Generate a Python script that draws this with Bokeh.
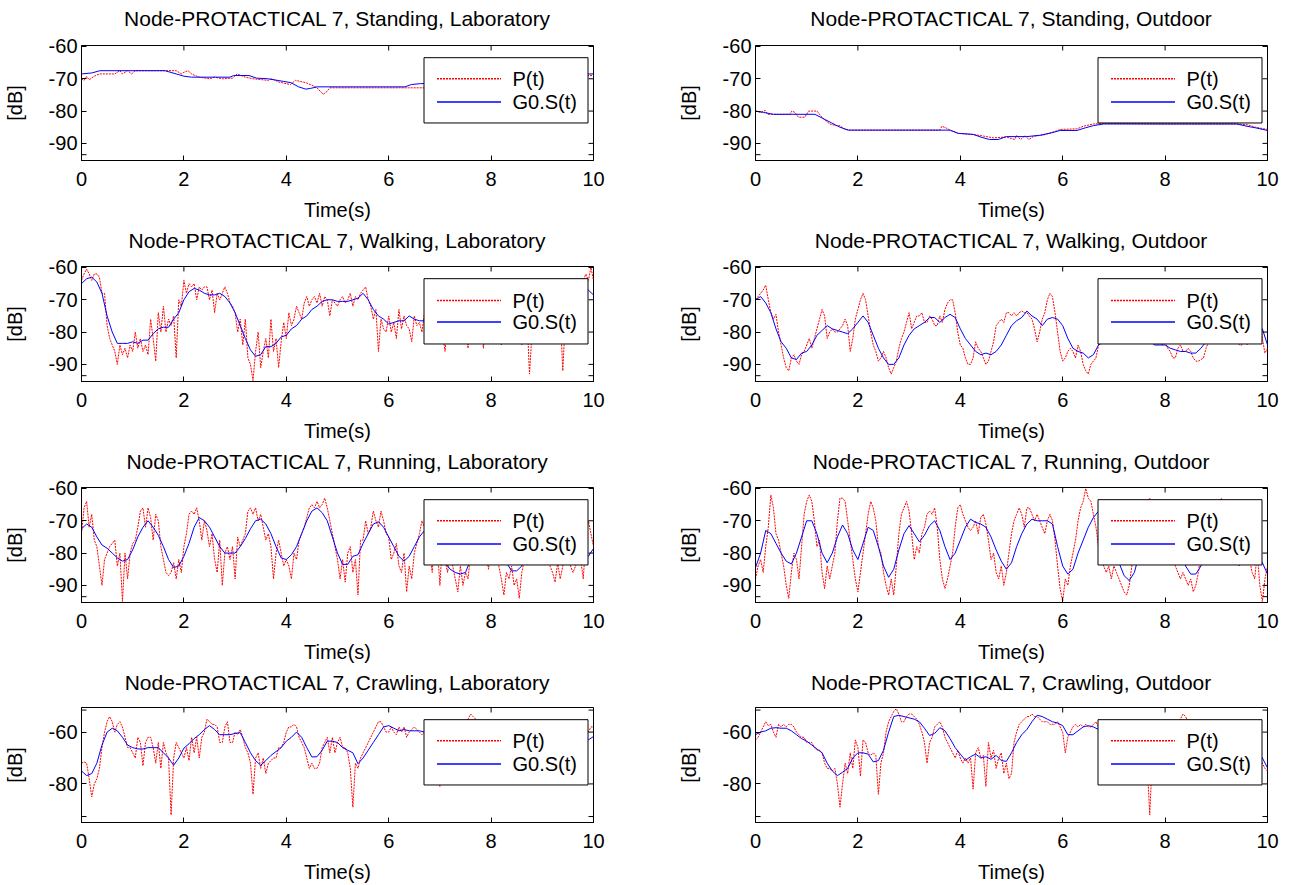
import numpy as np
from bokeh.core.properties import value
from bokeh.embed import file_html
from bokeh.layouts import column, row
from bokeh.models import FixedTicker, LinearAxis, Range1d
from bokeh.plotting import figure
from bokeh.resources import INLINE

FONT = "Liberation Sans"
TXT = "20px"
TITLE_TXT = "21px"

time_ticks = [0, 2, 4, 6, 8, 10]
db_ticks = [-90, -80, -70, -60]
db_ticks_crawl = [-80, -60]
db_edge_ticks = [-93.5]
db_edge_ticks_crawl = [-92.6, -51.5]
db_labels = {-90: "-90", -80: "-80", -70: "-70", -60: "-60"}
legend_labels = ["P(t)", "G0.S(t)"]

# ---------------- Standing, Laboratory (step-like, irregular sample times)
sl_tp = [0.0, 0.05, 0.1, 0.15, 0.25, 0.35, 0.65, 0.75, 0.8, 0.9, 0.98, 1.05,
         1.85, 1.95, 2.0, 2.08, 2.15, 2.22, 2.3, 2.5, 2.6, 2.75, 2.95, 3.04,
         3.2, 3.35, 3.65, 3.72, 3.85, 4.08, 4.18, 4.38, 4.5, 4.6, 4.72, 4.79,
         4.85, 6.3, 6.9, 7.5, 8.5, 9.5, 9.85, 10.0]
sl_p = [-70, -70.5, -69.3, -70.3, -69.2, -68.5, -68.5, -67.5, -68.5, -67.5, -68.5, -67.5,
        -67.5, -68.5, -68, -67.5, -68.5, -69, -69.5, -70, -69.5, -70, -69.8, -68.5,
        -69.5, -70, -70.5, -70, -71, -71.8, -70.5, -71.2, -72, -72.8, -74.8, -74,
        -72.8, -72.8, -72.8, -72, -71, -70, -69, -69]
sl_ts = [0.0, 0.2, 0.36, 1.63, 1.85, 2.0, 2.15, 2.9, 2.97, 3.27, 3.42, 3.64, 3.94,
         4.09, 4.24, 4.38, 4.47, 4.6, 6.32, 6.44, 6.62, 7.5, 8.5, 9.3, 9.8, 10.0]
sl_s = [-68.5, -68.2, -67.5, -67.5, -68.5, -69.2, -69.5, -69.5, -69.0, -69.0, -69.8, -70.0, -70.8,
        -71.2, -72.5, -73.2, -73.0, -72.5, -72.5, -71.8, -71.5, -71.5, -71, -70, -68.5, -68.5]

# ---------------- Standing, Outdoor
so_tp = [0.0, 0.1, 0.19, 0.24, 0.67, 0.71, 0.77, 0.84, 0.96, 1.04, 1.2, 1.3, 1.45,
         1.57, 1.65, 1.73, 1.85, 3.6, 3.64, 3.72, 3.8, 3.96, 4.33, 4.65, 4.9, 5.06,
         5.1, 5.18, 5.26, 5.34, 5.43, 5.63, 5.87, 5.95, 6.28, 6.4, 6.6, 6.8, 8.0,
         9.4, 9.6, 9.77, 10.0]
so_p = [-80, -80.4, -79.8, -81, -81, -80, -80.4, -81.9, -81.9, -80, -80, -82, -84,
        -84.5, -84.5, -85.5, -85.9, -85.9, -84.7, -85.2, -85.9, -86.9, -87.4, -88.3, -88, -88.8,
        -87.6, -88.8, -87.6, -88.8, -87.8, -87.4, -86.2, -85.7, -85.5, -84.7, -84, -83.8, -84,
        -84, -84.2, -85, -85.7]
so_ts = [0.0, 0.15, 0.35, 1.16, 1.32, 1.49, 1.65, 1.81, 3.8, 3.96, 4.25, 4.41, 4.57,
         4.74, 4.9, 5.3, 5.55, 5.79, 5.95, 6.28, 6.44, 6.6, 6.8, 8.0, 9.4, 9.6, 9.77, 10.0]
so_s = [-80, -80.4, -81, -81, -82.3, -83.7, -85, -85.9, -85.9, -86.9, -87.2, -88.1, -88.8,
        -88.8, -87.9, -87.9, -87.5, -86.7, -86, -86, -85.2, -84.5, -84, -84, -84, -84.7, -85.2, -86]

# ---------------- Walking, Laboratory (P every 0.05 s, smoothed every 0.1 s)
wl_p = [
    -64, -62, -60.5, -62, -64, -62, -62, -63, -68, -68, -78, -82, -84, -86, -90, -84, -87, -85, -88, -84,
    -86, -80, -85, -82, -86, -84, -87, -76, -82, -89, -74, -80, -72, -80, -76, -78, -75, -88, -70, -72,
    -64, -68, -65, -66, -65, -70, -66, -67, -66, -66, -70, -67, -74, -68, -70, -68, -66, -68, -71, -72,
    -74, -80, -76, -84, -76, -88, -90, -95, -86, -80, -91, -86, -82, -88, -76, -86, -82, -91, -83, -77,
    -82, -74, -78, -76, -72, -74, -76, -71, -69, -72, -70, -69, -71, -68, -72, -69, -70, -75, -70, -71,
    -72, -70, -69, -71, -70, -68, -72, -69, -70, -68, -67, -66, -70, -72, -76, -73, -86, -76, -79, -80,
    -75, -80, -77, -82, -73, -79, -75, -78, -79, -83, -75, -78, -77, -80, -74, -78, -76, -80, -77, -82,
    -78, -80, -86, -76, -74, -78, -72, -80, -76, -74, -78, -85, -76, -79, -74, -82, -78, -85, -76, -73,
    -77, -80, -74, -78, -84, -76, -72, -78, -75, -80, -74, -78, -84, -77, -75, -93, -80, -74, -77, -76,
    -72, -78, -74, -70, -76, -72, -80, -74, -92, -76, -70, -72, -68, -70, -66, -68, -64, -62, -64, -60,
    -64]
wl_s = [
    -65, -63.5, -63, -64.5, -68, -75, -80, -83.5, -83.5, -83.5,
    -83, -83.5, -82.5, -82.5, -80.5, -79, -78.5, -78.5, -76, -74,
    -70, -67.5, -66.5, -67, -68, -68.5, -68.5, -68, -69, -71,
    -74, -78, -82, -85.5, -87.5, -87, -84.5, -84.5, -83.5, -81.5,
    -81, -79, -78, -76, -75, -73, -72, -70.5, -70, -70,
    -70.5, -70.5, -70.5, -70, -69.5, -68, -70, -73, -75, -76,
    -77.5, -77, -76.5, -76.5, -75, -76, -76.5, -76.5, -77, -77,
    -77, -76.5, -76, -76, -76, -76, -75.5, -75, -75, -75,
    -75, -75, -74.5, -74.5, -74, -74, -73.5, -73, -72.5, -72,
    -72, -71, -70, -69.5, -69, -68, -67, -66.5, -66.5, -67,
    -68.5]

# ---------------- Walking, Outdoor
wo_p = [
    -70, -69, -68, -67, -65.5, -70, -74, -76, -74.5, -80, -84, -88, -91, -92, -88, -87, -89, -90, -87, -86,
    -84, -82, -85, -82, -79, -76, -73, -75, -82, -80, -79, -80, -80, -79, -78, -76, -78, -86, -82, -76,
    -73, -70, -68, -70, -75, -80, -84, -86, -89, -88, -86, -88, -91, -93, -91, -89, -85, -82, -80, -77,
    -74, -79, -77, -75, -75, -74, -77, -77, -75, -76, -78, -78, -75, -77, -73, -71, -70, -70, -74, -80,
    -84, -85, -88, -90, -90, -88, -83, -85, -86, -88, -90, -89, -86, -83, -78, -77, -76, -77, -74, -74,
    -75, -74, -75, -74, -73.5, -74, -74, -75, -76, -79, -83, -80, -76, -74, -70, -68, -69, -74, -80, -86,
    -89, -88, -86, -85, -86, -88, -84, -86, -90, -92, -93, -90, -89, -88, -84, -80, -76, -72, -70, -72,
    -75, -78, -80, -76, -74, -72, -74, -76, -78, -80, -78, -76, -74, -72, -74, -76, -78, -80, -82, -84,
    -83, -85, -86, -88, -88, -85, -84, -86, -86, -85, -86, -88, -89, -89, -88.5, -88, -85, -83, -80, -78,
    -76, -74, -72, -70, -72, -74, -76, -80, -82, -84, -84, -82, -84, -80, -75, -71, -70, -74, -82, -86.5,
    -85]
wo_s = [
    -70, -69, -71, -74, -79, -83, -85, -88, -88.5, -86.5,
    -86, -84, -81, -79.5, -78, -79, -79.5, -80, -80.5, -79,
    -77, -75, -77, -81, -85, -88, -90, -90, -88, -84,
    -81, -79, -78, -77, -75.5, -75.5, -77, -75.5, -74.5, -75.5,
    -79, -82, -84, -86, -87, -86.5, -87, -86, -84, -81,
    -78, -76.5, -75.5, -73.5, -75, -76, -78, -76, -75.5, -76,
    -78, -82, -85, -86, -86.5, -88, -87, -84, -83, -80,
    -79, -77, -76, -76, -78, -80, -82, -83, -84, -84,
    -84, -85, -85.5, -86, -86, -86.5, -86.5, -85, -83, -82,
    -80, -79, -78, -77, -76, -77, -77.5, -78, -78, -79,
    -84]

# ---------------- Running, Laboratory
rl_p = [
    -74, -66, -64, -72, -68, -76, -78, -84, -90, -82, -80, -78, -77, -76, -84, -80, -95, -80, -88, -80,
    -77, -76, -72, -67, -66, -72, -66, -69, -76, -68, -70, -78, -82, -86, -87, -86, -83, -88, -82, -86,
    -78, -74, -68, -67, -68, -66, -70, -76, -70, -73, -78, -74, -82, -86, -76, -90, -80, -78, -82, -78,
    -88, -75, -78, -76, -74, -67, -66, -68, -66, -70, -68, -72, -76, -74, -78, -88, -80, -76, -80, -84,
    -82, -84, -88, -80, -82, -76, -74, -72, -69, -66, -65, -66, -64, -66, -65, -63, -66, -70, -74, -78,
    -82, -88, -82, -89, -80, -78, -86, -82, -93, -76, -76, -70, -74, -72, -67, -70, -72, -67, -70, -74,
    -75, -82, -80, -77, -84, -86, -80, -92, -84, -88, -80, -77, -74, -70, -72, -76, -80, -86, -74, -78,
    -90, -76, -82, -86, -80, -84, -88, -92, -84, -90, -86, -88, -80, -76, -72, -70, -74, -76, -80, -85,
    -78, -76, -80, -84, -88, -93, -86, -88, -84, -90, -88, -94, -86, -82, -78, -74, -72, -74, -76, -72,
    -76, -78, -80, -84, -86, -89, -83, -88, -84, -82, -80, -84, -86, -84, -80, -82, -88, -76, -70, -74,
    -78]
rl_s = [
    -72.5, -71, -72, -75, -77.5, -78.5, -80, -81.5, -82.5, -82,
    -79, -75, -72, -70, -72, -74.5, -78, -82, -84.5, -84,
    -81, -77, -72, -69, -70, -72, -75, -78, -80, -80,
    -80, -78, -75.5, -72.5, -70, -69.5, -71, -74, -78, -81.5,
    -82, -80.5, -78, -74, -70, -67, -66, -67.5, -70, -75,
    -80, -83.5, -83.5, -81, -80.5, -77, -74, -71, -70.3, -72,
    -75, -78, -81, -82.5, -81, -78, -75, -73, -72.5, -75,
    -79, -83, -85, -86, -86.5, -86, -82, -77, -73, -71,
    -72, -75, -79, -83, -85.5, -85.5, -84, -80, -76, -73,
    -72, -73, -75, -77, -79, -81, -82, -82.5, -82.3, -81,
    -78.6]

# ---------------- Running, Outdoor
ro_p = [
    -88, -84, -82, -86, -78, -72, -62, -66, -74, -76, -80, -84, -90, -94, -86, -80, -82, -88, -78, -68,
    -64, -62, -64, -70, -78, -76, -86, -91, -84, -88, -84, -80, -70, -63, -63, -64, -70, -76, -82, -88,
    -92, -86, -80, -74, -68, -64, -66, -70, -78, -80, -86, -90, -93, -88, -93, -84, -74, -68, -66, -64,
    -67, -74, -82, -78, -80, -74, -72, -68, -67, -68, -66, -72, -82, -88, -91, -88, -84, -80, -72, -66,
    -65, -68, -70, -72, -73, -72, -70, -74, -69, -68, -71, -76, -82, -80, -86, -88, -84, -90, -86, -80,
    -74, -70, -68, -66, -68, -72, -66, -66, -68, -70, -68, -70, -72, -74, -70, -68, -70, -76, -84, -91,
    -95, -88, -90, -84, -80, -76, -70, -66, -64, -60, -63, -64, -68, -72, -78, -82, -84, -86, -84, -88,
    -84, -86, -88, -90, -92, -93, -90, -84, -78, -74, -70, -67, -65, -64, -63, -66, -72, -78, -74, -72,
    -72, -76, -80, -82, -84, -86, -88, -86, -88, -90, -88, -92, -90, -86, -80, -74, -70, -67, -66, -68,
    -66, -64, -63, -66, -70, -74, -78, -80, -82, -84, -80, -76, -78, -82, -86, -88, -80, -90, -95, -88,
    -84]
ro_s = [
    -84.5, -80, -73, -74, -77, -80, -82.5, -83.4, -80, -75,
    -70, -70, -74, -80, -83, -80, -75, -71.3, -74, -79,
    -82, -77, -72, -73, -78, -84, -87.5, -85, -79, -74,
    -71.5, -74, -76.5, -74.5, -71.5, -70, -73, -78, -82, -80,
    -76, -72, -69.5, -70.5, -71, -72, -75, -79, -82.5, -85,
    -83, -78, -74, -71, -69.5, -70, -70, -70, -71, -78,
    -84, -86.5, -85, -80, -76, -72, -69, -67, -68, -72,
    -78, -83, -87, -88.5, -86, -80, -74, -70, -68, -69,
    -71, -73, -75, -79, -84, -86.5, -86.5, -84, -79, -75,
    -72, -70, -70, -71, -72, -73, -75, -77, -80.5, -83,
    -86.5]

# ---------------- Crawling, Laboratory
cl_p = [
    -72, -71.5, -72, -78, -85, -80, -78, -74, -66, -60, -56, -54, -56, -60, -57, -56, -58, -62, -66, -66,
    -68, -70, -62, -64, -73, -64, -62, -62, -66, -72, -64, -74, -64, -68, -70, -92, -70, -64, -66, -68,
    -70, -66, -71, -62, -68, -62, -70, -62, -60, -55, -56, -57, -57, -58, -64, -64, -58, -56, -64, -64,
    -60, -61, -59, -62, -66, -68, -72, -84, -70, -68, -74, -70, -76, -72, -71, -70, -70, -66, -66, -64,
    -60, -58, -58, -57, -58, -62, -64, -66, -70, -74, -72, -74, -74, -72, -66, -64, -62, -68, -62, -68,
    -64, -62, -66, -66, -68, -74, -89, -72, -74, -70, -68, -66, -64, -62, -60, -58, -56, -56, -58, -60,
    -60, -58, -60, -61, -58, -60, -58, -62, -60, -59, -58, -59, -60, -61, -60, -62, -61, -64, -66, -70,
    -81, -66, -62, -60, -58, -57, -58, -60, -58, -56, -57, -55, -53, -54, -55, -58, -60, -62, -64, -66,
    -64, -66, -68, -70, -72, -70, -68, -66, -64, -62, -64, -66, -68, -70, -72, -70, -68, -66, -68, -70,
    -72, -70, -68, -66, -68, -70, -72, -70, -68, -66, -64, -66, -64, -62, -64, -66, -64, -62, -60, -58,
    -58]
cl_s = [
    -75, -76.8, -76, -72, -65, -60, -58.5, -59.5, -62, -65,
    -66, -66.5, -66.5, -66, -66, -66, -68, -70, -72.8, -70,
    -66.2, -64.5, -62.5, -61, -59, -57.5, -59, -61, -61, -61,
    -60.5, -60.2, -64, -68, -71, -72.8, -71, -69, -67.5, -66,
    -63.5, -62, -60, -62, -66, -69.6, -69.5, -67, -63.5, -63.5,
    -64, -66, -67, -68, -72.2, -70, -67, -64, -61, -58,
    -57.5, -58.5, -59.5, -59, -59.5, -59.5, -59.5, -60, -60, -60,
    -60, -60, -60, -60.5, -61, -61, -61.5, -62, -62, -62.5,
    -63, -63.5, -64, -64.5, -65, -65.5, -66, -66, -66, -66,
    -66, -66, -66, -65.5, -65.5, -65, -65, -64.5, -64.2, -63,
    -61.7]

# ---------------- Crawling, Outdoor
co_p = [
    -63, -62, -60, -58, -56, -57.5, -57, -60, -62, -57, -58, -57, -58, -57, -57, -58, -60, -61, -62, -62,
    -64, -64, -64, -66, -67, -67, -68, -72, -74, -74, -75, -74, -80, -89, -80, -72, -76, -68, -74, -63,
    -66, -77, -63, -64, -68, -69, -68, -69, -84, -72, -68, -60, -56, -54, -52, -51, -53, -56, -56, -54,
    -53, -53, -54, -55, -57, -60, -64, -72, -64, -62, -58, -57, -56, -58, -62, -64, -66, -68, -70, -67,
    -70, -72, -70, -72, -70, -82, -68, -66, -70, -69, -81, -64, -70, -67, -74, -70, -68, -76, -72, -78,
    -76, -64, -60, -57, -56, -55, -54, -54, -53, -54, -54, -55, -56, -56, -56, -57, -57, -57, -56, -58,
    -60, -68, -62, -60, -58, -57, -58, -57, -58, -57, -58, -58, -57, -56, -58, -60, -62, -60, -58, -57,
    -58, -60, -62, -64, -66, -68, -70, -72, -74, -76, -78, -80, -76, -72, -92, -70, -66, -64, -62, -60,
    -58, -56, -57, -58, -60, -58, -55, -53, -54, -56, -58, -57, -56, -57, -58, -60, -62, -58, -56, -58,
    -60, -62, -60, -58, -60, -62, -64, -66, -64, -62, -60, -62, -64, -66, -64, -66, -68, -70, -72, -74,
    -75]
co_s = [
    -61, -60, -59.5, -58.5, -58.3, -58.5, -58.5, -59.5, -61, -62.5,
    -63.5, -65, -66.5, -68, -72, -75, -76.8, -75.5, -74, -70,
    -68, -68, -68.5, -71.5, -71, -67, -60, -54, -53.5, -54,
    -54.5, -55, -56, -58.5, -61.3, -60.5, -58.3, -59.5, -62.5, -66,
    -68.5, -70.9, -69.5, -68.5, -70, -69.5, -70.5, -69, -71, -71.3,
    -68, -64, -61, -59, -56, -53.5, -54, -55, -56, -56.5,
    -57.5, -61, -61, -59.5, -58, -57.5, -58, -59, -60, -60,
    -60, -59.5, -59, -58.5, -58, -59, -61, -63, -64, -63,
    -62, -60, -58, -57, -57, -57.5, -58, -58.5, -59, -59.5,
    -60, -61, -62, -63, -64, -65, -66, -67, -67.8, -70,
    -73.8]


def uniform(values):
    return np.linspace(0.0, 10.0, len(values))


UPPER = (-95.3, -59.7)
CRAWL = (-94.9, -50.5)

panels = [
    ("Node-PROTACTICAL 7, Standing, Laboratory", sl_tp, sl_p, sl_ts, sl_s, UPPER, db_ticks, db_edge_ticks),
    ("Node-PROTACTICAL 7, Standing, Outdoor", so_tp, so_p, so_ts, so_s, UPPER, db_ticks, db_edge_ticks),
    ("Node-PROTACTICAL 7, Walking, Laboratory", uniform(wl_p), wl_p, uniform(wl_s), wl_s, UPPER, db_ticks, db_edge_ticks),
    ("Node-PROTACTICAL 7, Walking, Outdoor", uniform(wo_p), wo_p, uniform(wo_s), wo_s, UPPER, db_ticks, db_edge_ticks),
    ("Node-PROTACTICAL 7, Running, Laboratory", uniform(rl_p), rl_p, uniform(rl_s), rl_s, UPPER, db_ticks, db_edge_ticks),
    ("Node-PROTACTICAL 7, Running, Outdoor", uniform(ro_p), ro_p, uniform(ro_s), ro_s, UPPER, db_ticks, db_edge_ticks),
    ("Node-PROTACTICAL 7, Crawling, Laboratory", uniform(cl_p), cl_p, uniform(cl_s), cl_s, CRAWL, db_ticks_crawl, db_edge_ticks_crawl),
    ("Node-PROTACTICAL 7, Crawling, Outdoor", uniform(co_p), co_p, uniform(co_s), co_s, CRAWL, db_ticks_crawl, db_edge_ticks_crawl),
]

# figure geometry: per-row height and space above the plot frame
FRAME_W, FRAME_H = 512, 118
ROW_HEIGHTS = [223, 221, 221, 220]
ROW_TOPS = [45, 43, 43, 42]
TITLE_GAPS = [16, 15, 15, 14]     # gap between each row's titles and frames
BOTTOM = 60
RED = "#ff0000"
BLUE = "#0000ff"

# legend box in frame pixels (origin at the frame's bottom-left corner)
LEG_BOX = dict(left=342.5, right=506.5, bottom=38.5, top=105.5)
LEG_KEY_X = (355.5, 419.5)
LEG_TEXT_X = 431
# key-line heights in frame pixels for each row of panels
LEG_ROWS_Y = [(84, 60), (83, 61), (84, 60), (84, 60)]


def style_axis(ax, ticks):
    ax.ticker = FixedTicker(ticks=ticks)
    ax.axis_line_color = "black"
    ax.axis_line_width = 1
    ax.major_tick_line_color = "black"
    ax.major_tick_in = 5
    ax.major_tick_out = 0
    ax.minor_tick_in = 0
    ax.minor_tick_out = 0
    ax.major_label_text_font = FONT
    ax.major_label_text_font_size = TXT
    ax.major_label_text_color = "black"
    ax.axis_label_text_font = FONT
    ax.axis_label_text_font_size = TXT
    ax.axis_label_text_font_style = "normal"
    ax.axis_label_text_color = "black"


def build_panel(title, tp, p, ts, s, yr, ticks, edge_ticks, border_right, height, top,
                title_gap, key_y):
    fig = figure(width=81 + FRAME_W + border_right, height=height,
                 x_range=Range1d(0, 10), y_range=Range1d(*yr),
                 output_backend="svg", toolbar_location=None,
                 min_border_left=81, min_border_right=border_right,
                 min_border_top=top, min_border_bottom=BOTTOM,
                 x_axis_label="Time(s)", y_axis_label="[dB]")
    fig.extra_x_ranges = {"px": Range1d(0, FRAME_W)}
    fig.extra_y_ranges = {"py": Range1d(0, FRAME_H)}
    fig.grid.visible = False
    fig.outline_line_color = "black"
    fig.outline_line_alpha = 1.0
    fig.background_fill_color = "white"
    fig.border_fill_color = "white"

    # the panel title sits on an unticked axis above the frame, centred at t = 5
    head = LinearAxis(ticker=FixedTicker(ticks=[5]), axis_line_color=None,
                      major_tick_in=0, major_tick_out=0, major_tick_line_color=None,
                      minor_tick_in=0, minor_tick_out=0,
                      major_label_standoff=title_gap,
                      major_label_overrides={5: title},
                      major_label_text_font=FONT, major_label_text_font_size=TITLE_TXT,
                      major_label_text_color="black")
    fig.add_layout(head, "above")

    fig.line(tp, p, line_color=RED, line_width=1, line_dash="2 1")
    fig.line(ts, s, line_color=BLUE, line_width=1)

    bottom = fig.below[0]
    left = fig.left[0]
    style_axis(bottom, time_ticks)
    bottom.major_label_standoff = 11
    bottom.axis_label_standoff = 10
    style_axis(left, ticks)
    left.major_label_standoff = 4
    left.axis_label_standoff = 20
    left.major_label_overrides = db_labels

    # inward tick marks on the top and right edges of the box, plus edge ticks
    lo, hi = yr
    all_y = list(ticks) + list(edge_ticks)
    fig.ray(x=time_ticks, y=[hi] * len(time_ticks), length=5, length_units="screen",
            angle=-90, angle_units="deg", line_color="black", line_width=1)
    fig.ray(x=[10] * len(all_y), y=all_y, length=5, length_units="screen",
            angle=180, angle_units="deg", line_color="black", line_width=1)
    fig.ray(x=[0] * len(edge_ticks), y=list(edge_ticks), length=5, length_units="screen",
            angle=0, angle_units="deg", line_color="black", line_width=1)

    # legend: white box, two key lines and their labels
    fig.quad(left=[LEG_BOX["left"]], right=[LEG_BOX["right"]],
             bottom=[LEG_BOX["bottom"]], top=[LEG_BOX["top"]],
             fill_color="white", line_color="black", line_width=1,
             x_range_name="px", y_range_name="py")
    fig.segment(x0=[LEG_KEY_X[0]], x1=[LEG_KEY_X[1]], y0=[key_y[0]], y1=[key_y[0]],
                line_color=RED, line_width=1.5, line_dash="2 1",
                x_range_name="px", y_range_name="py")
    fig.segment(x0=[LEG_KEY_X[0]], x1=[LEG_KEY_X[1]], y0=[key_y[1]], y1=[key_y[1]],
                line_color=BLUE, line_width=1.5,
                x_range_name="px", y_range_name="py")
    fig.text(x=[LEG_TEXT_X, LEG_TEXT_X], y=list(key_y), text=legend_labels,
             text_font=value(FONT), text_font_size=value(TXT), text_color="black",
             text_align="left", text_baseline="middle",
             x_range_name="px", y_range_name="py")
    return fig


figs = []
for i, (title, tp, p, ts, s, yr, ticks, edge) in enumerate(panels):
    r = i // 2
    figs.append(build_panel(title, tp, p, ts, s, yr, ticks, edge,
                            81 if i % 2 == 0 else 25, ROW_HEIGHTS[r], ROW_TOPS[r],
                            TITLE_GAPS[r], LEG_ROWS_Y[r]))

layout = column(*[row(figs[k], figs[k + 1]) for k in range(0, 8, 2)])

open("out.html", "w").write(file_html(layout, INLINE))
